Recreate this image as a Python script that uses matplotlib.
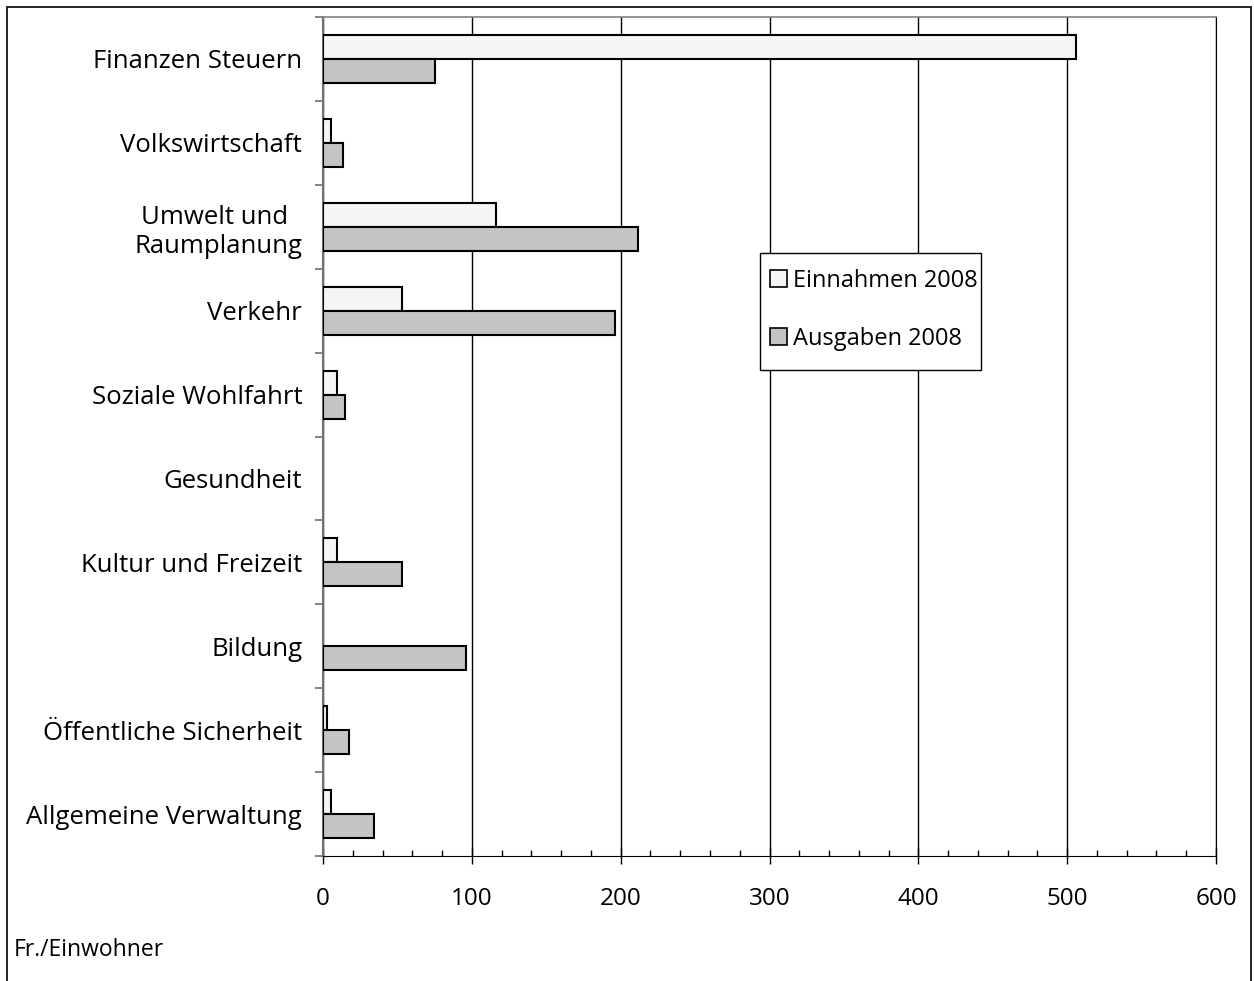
import matplotlib
matplotlib.use("Agg")
import matplotlib.pyplot as plt
from matplotlib.patches import Rectangle

plt.rcParams['font.family'] = ['Open Sans', 'DejaVu Sans']

categories = ["Finanzen Steuern", "Volkswirtschaft", "Umwelt und \nRaumplanung", "Verkehr",
              "Soziale Wohlfahrt", "Gesundheit", "Kultur und Freizeit", "Bildung",
              "Öffentliche Sicherheit", "Allgemeine Verwaltung"]
einnahmen = [506, 5.5, 116, 53, 9.5, 0, 9.5, 0, 3, 5.5]
ausgaben = [75.5, 13.5, 211.5, 196.5, 15, 0, 53, 96, 17.5, 34]
xticks = [0, 100, 200, 300, 400, 500, 600]

W, H = 1254, 981
fig = plt.figure(figsize=(W / 100, H / 100), dpi=100)
ax = fig.add_axes([323 / W, 1 - 856 / H, (1216 - 323) / W, (856 - 17) / H])

# outer frame
fig.patches.append(Rectangle((7 / W, -0.01), (1251 - 7) / W, (H - 7) / H + 0.01,
                             transform=fig.transFigure, fill=False, edgecolor='black', lw=1.2))

pos = list(range(len(categories)))
bh = 0.286
b1 = ax.barh([p - bh / 2 for p in pos], einnahmen, height=bh, color='#f5f5f5',
             edgecolor='black', linewidth=1.5, label='Einnahmen 2008', zorder=3)
b2 = ax.barh([p + bh / 2 for p in pos], ausgaben, height=bh, color='#c4c4c4',
             edgecolor='black', linewidth=1.5, label='Ausgaben 2008', zorder=3)
# empty values: no outline drawn
for bars, vals in ((b1, einnahmen), (b2, ausgaben)):
    for r, v in zip(bars, vals):
        if v == 0:
            r.set_visible(False)

ax.set_ylim(len(categories) - 0.5, -0.5)
ax.set_xlim(0, 600)

ax.set_yticks(pos)
ax.set_yticklabels(categories, fontsize=18.5, multialignment='center')
ax.set_yticks([p - 0.5 for p in pos] + [len(categories) - 0.5], minor=True)
ax.tick_params(axis='y', which='major', length=0, pad=15)
ax.tick_params(axis='y', which='minor', length=6, direction='out', color='#707070', width=1.2)

ax.set_xticks(xticks)
ax.set_xticklabels([str(v) for v in xticks], fontsize=17.5)
ax.set_xticks(range(0, 601, 20), minor=True)
ax.tick_params(axis='x', which='major', length=12, direction='inout', width=1, pad=16)
ax.tick_params(axis='x', which='minor', length=4, direction='in', width=1)

ax.grid(axis='x', color='black', linewidth=1, zorder=1)
ax.set_axisbelow(True)
ax.spines['left'].set_color('#707070')
ax.spines['left'].set_linewidth(1.5)
ax.spines['top'].set_color('#808080')
ax.spines['top'].set_linewidth(1.2)
ax.spines['right'].set_color('black')
ax.spines['bottom'].set_color('black')

# legend box drawn separately so the padding can differ per side
ax.add_patch(Rectangle((760 / W, 1 - 370 / H), (981 - 760) / W, (370 - 253) / H,
                       transform=fig.transFigure, facecolor='white', clip_on=False,
                       edgecolor='black', lw=1, zorder=4))
leg = ax.legend(loc='center left', bbox_to_anchor=(770 / W, 1 - 310 / H),
                bbox_transform=fig.transFigure, fontsize=17, frameon=False,
                borderpad=0, labelspacing=1.45, handlelength=0.72, handleheight=0.72,
                handletextpad=0.25, borderaxespad=0)
leg.set_zorder(5)
for h in leg.legend_handles:
    h.set_linewidth(1.2)

fig.text(14 / W, 1 - 956 / H, "Fr./Einwohner", fontsize=16.5, va='baseline', ha='left')

fig.savefig("out.png", dpi=100)
